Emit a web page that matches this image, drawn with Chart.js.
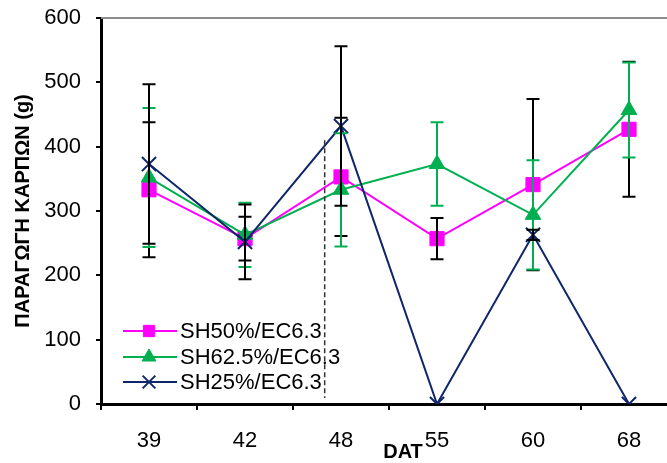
<!DOCTYPE html>
<html>
<head>
<meta charset="utf-8">
<script src="https://cdn.jsdelivr.net/npm/chart.js@4/dist/chart.umd.min.js"></script>
<style>
html,body{margin:0;padding:0;background:#fff;overflow:hidden;}
body{min-width:689px;}
#wrap{width:689px;height:463px;}
canvas{display:block;}
</style>
</head>
<body>
<div id="wrap"><canvas id="c" width="689" height="463" style="width:689px;height:463px"></canvas></div>
<script>
// ---- data ----
const categories = ['39', '42', '48', '55', '60', '68'];
const seriesNames = ['SH50%/EC6.3', 'SH62.5%/EC6.3', 'SH25%/EC6.3'];
const sh50 = [333, 257, 353, 257, 341, 427];
const sh50Err = [105, 34, 92, 32, 133, 105];
const sh625 = [352, 263, 333, 373, 294, 457];
const sh625Err = [108, 50, 88, 65, 85, 74];
const sh25 = [373, 252, 432, 0, 263, 0];
const sh25Err = [124, 58, 124, 0, 8, 0];
const yTitle = 'ΠΑΡΑΓΩΓΗ ΚΑΡΠΩΝ (g)';
const xTitle = 'DAT';
const dashAt = 1.83;      // category position of the dashed marker line
const dashTop = 410;      // value where the dashed line starts

const FONT = "'Liberation Sans', Arial, sans-serif";
const MAGENTA = '#FF00FF', GREEN = '#00B050', NAVY = '#10266A';

const errInfo = [
  {err: sh50Err, color: '#000000'},
  {err: sh625Err, color: GREEN},
  {err: sh25Err, color: '#000000'}
];

const extras = {
  id: 'extras',
  beforeDatasetsDraw(chart) {
    const {ctx, chartArea: a} = chart;
    ctx.save();
    ctx.strokeStyle = '#8c8c8c';
    ctx.lineWidth = 2;
    ctx.beginPath();
    ctx.moveTo(a.left, a.top);
    ctx.lineTo(a.right, a.top);
    ctx.stroke();
    ctx.restore();
  },
  afterDatasetsDraw(chart) {
    const {ctx} = chart;
    const xs = chart.scales.x, ys = chart.scales.y;
    ctx.save();
    ctx.lineWidth = 2;
    errInfo.forEach((info, di) => {
      const data = chart.data.datasets[di].data;
      ctx.strokeStyle = info.color;
      data.forEach((v, i) => {
        const e = info.err[i];
        if (!e) return;
        const x = xs.getPixelForValue(i);
        const y1 = ys.getPixelForValue(v + e);
        const y2 = ys.getPixelForValue(v - e);
        ctx.beginPath();
        ctx.moveTo(x, y1); ctx.lineTo(x, y2);
        ctx.moveTo(x - 6.5, y1); ctx.lineTo(x + 6.5, y1);
        ctx.moveTo(x - 6.5, y2); ctx.lineTo(x + 6.5, y2);
        ctx.stroke();
      });
    });
    ctx.restore();
  },
  afterDraw(chart) {
    const {ctx, chartArea: a} = chart;
    const xs = chart.scales.x, ys = chart.scales.y;
    // legend inside the plot area
    const rows = [a.bottom - 73, a.bottom - 47, a.bottom - 22];
    chart.data.datasets.forEach((ds, i) => {
      const y = rows[i];
      ctx.save();
      ctx.strokeStyle = ds.borderColor;
      ctx.lineWidth = 2;
      ctx.beginPath();
      ctx.moveTo(a.left + 22, y);
      ctx.lineTo(a.left + 76, y);
      ctx.stroke();
      ctx.fillStyle = ds.backgroundColor;
      ctx.strokeStyle = ds.borderColor;
      ctx.lineWidth = ds.pointBorderWidth || 1;
      Chart.helpers.drawPoint(ctx, {
        pointStyle: ds.pointStyle, radius: ds.legendRadius, borderWidth: ds.pointBorderWidth || 1, rotation: 0
      }, a.left + 48, y);
      ctx.fillStyle = '#000';
      ctx.font = '22px ' + FONT;
      ctx.textBaseline = 'middle';
      ctx.textAlign = 'left';
      ctx.fillText(ds.label, a.left + 79, y + 1);
      ctx.restore();
    });
    ctx.save();
    // dashed vertical line
    const dx = xs.getPixelForValue(dashAt);
    ctx.strokeStyle = '#333';
    ctx.lineWidth = 1.5;
    ctx.setLineDash([5, 3]);
    ctx.beginPath();
    ctx.moveTo(dx, ys.getPixelForValue(dashTop));
    ctx.lineTo(dx, a.bottom - 6);
    ctx.stroke();
    ctx.setLineDash([]);
    // x axis title
    ctx.fillStyle = '#000';
    ctx.font = 'bold 20px ' + FONT;
    ctx.textAlign = 'center';
    ctx.textBaseline = 'middle';
    ctx.fillText(xTitle, (a.left + a.right) / 2 + 14, chart.height - 11);
    ctx.restore();
  }
};

function zeroPad(s) { s.paddingTop = 0; s.paddingBottom = 0; s.paddingLeft = 0; s.paddingRight = 0; }

new Chart(document.getElementById('c'), {
  type: 'line',
  data: {
    labels: categories,
    datasets: [
      {label: seriesNames[0], data: sh50, borderColor: MAGENTA, backgroundColor: MAGENTA,
       pointStyle: 'rect', pointRadius: 10, pointBorderWidth: 1, legendRadius: 8, borderWidth: 2, order: 3},
      {label: seriesNames[1], data: sh625, borderColor: GREEN, backgroundColor: GREEN,
       pointStyle: 'triangle', pointRadius: 9, pointBorderWidth: 1, legendRadius: 8, borderWidth: 2, order: 2},
      {label: seriesNames[2], data: sh25, borderColor: NAVY, backgroundColor: NAVY,
       pointStyle: 'crossRot', pointRadius: 10, pointBorderWidth: 2, legendRadius: 9, borderWidth: 2, order: 1}
    ]
  },
  options: {
    responsive: false,
    animation: false,
    devicePixelRatio: 1,
    layout: {padding: {left: 0, top: 18, right: 3, bottom: 0}},
    plugins: {legend: {display: false}, tooltip: {enabled: false}},
    elements: {line: {tension: 0}},
    scales: {
      x: {
        offset: true,
        grid: {display: true, drawOnChartArea: false, offset: true, tickLength: 6, color: '#000', lineWidth: 2},
        border: {display: true, color: '#000', width: 3},
        ticks: {color: '#000', font: {family: FONT, size: 22}, padding: 18, maxRotation: 0},
        afterFit(s) { s.height = 59; zeroPad(s); }
      },
      y: {
        min: 0, max: 600,
        grid: {display: true, drawOnChartArea: false, tickLength: 5, color: '#000', lineWidth: 2},
        border: {display: true, color: '#000', width: 3},
        ticks: {stepSize: 100, color: '#000', font: {family: FONT, size: 22}, padding: 15},
        title: {display: true, text: yTitle, color: '#000', font: {family: FONT, size: 20, weight: 'bold'}, padding: {top: 11, bottom: 0}},
        afterFit(s) { s.width = 101; zeroPad(s); }
      }
    }
  },
  plugins: [extras]
});
</script>
</body>
</html>
